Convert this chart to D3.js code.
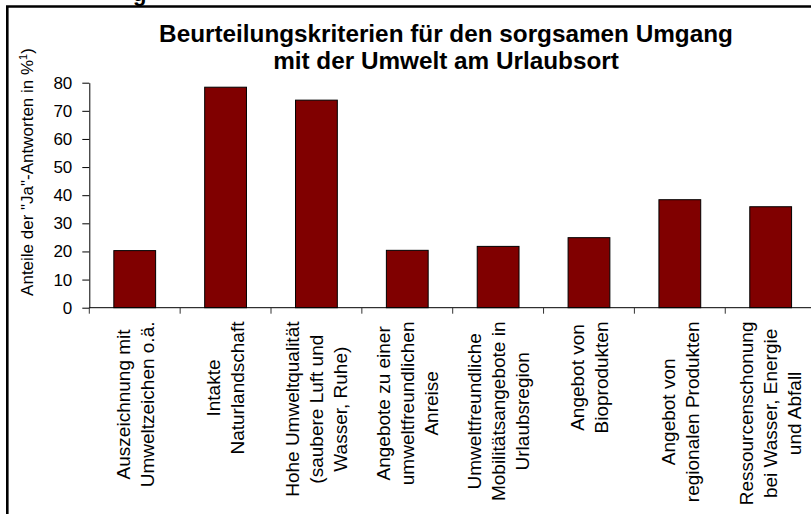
<!DOCTYPE html>
<html>
<head>
<meta charset="utf-8">
<script src="https://cdn.jsdelivr.net/npm/d3@7"></script>
<style>
  html, body { margin: 0; padding: 0; background: #fff; overflow: hidden; width: 811px; height: 514px; }
  svg { position: fixed; left: 0; top: 0; display: block; overflow: hidden; font-family: "Liberation Sans", Arial, sans-serif; }
</style>
</head>
<body>
<svg id="chart" width="811" height="514" viewBox="0 0 811 514"></svg>
<script>
// Kriterien (mehrzeilige Beschriftung der Rubrikenachse)
const categories = [
  ["Auszeichnung mit", "Umweltzeichen o.ä."],
  ["Intakte", "Naturlandschaft"],
  ["Hohe Umweltqualität", "(saubere Luft und", "Wasser, Ruhe)"],
  ["Angebote zu einer", "umweltfreundlichen", "Anreise"],
  ["Umweltfreundliche", "Mobilitätsangebote in", "Urlaubsregion"],
  ["Angebot von", "Bioprodukten"],
  ["Angebot von", "regionalen Produkten"],
  ["Ressourcenschonung", "bei Wasser, Energie", "und Abfall"]
];
// Anteile der "Ja"-Antworten in %
const values = [20.3, 78.4, 73.8, 20.4, 21.8, 24.9, 38.4, 35.9];
const yTicks = [0, 10, 20, 30, 40, 50, 60, 70, 80];
const titleLines = ["Beurteilungskriterien für den sorgsamen Umgang", "mit der Umwelt am Urlaubsort"];

const svg = d3.select("#chart");

// weißer Hintergrund
svg.append("rect").attr("x", 0).attr("y", 0).attr("width", 811).attr("height", 514).attr("fill", "#fff");

// Rahmen um das Diagramm (links und oben sichtbar)
svg.append("path")
  .attr("d", "M7.3,600 L7.3,6.5 L900,6.5")
  .attr("fill", "none").attr("stroke", "#000").attr("stroke-width", 2.6);

// Rest der Überschrift oberhalb des Rahmens
svg.append("text")
  .attr("x", 133).attr("y", 0.5)
  .attr("font-size", 22).attr("font-weight", "bold")
  .text("g");

// Titel
svg.append("g").selectAll("text").data(titleLines).join("text")
  .attr("x", 446)
  .attr("y", (d, i) => 41.5 + i * 27.5)
  .attr("text-anchor", "middle")
  .attr("font-size", 24.3).attr("font-weight", "bold")
  .text(d => d);

const x = d3.scaleBand()
  .domain(d3.range(categories.length))
  .range([89.3, 89.3 + categories.length * 90.85])
  .padding(0);

const y = d3.scaleLinear().domain([0, 80]).range([307.7, 82.7]);

// Balken
svg.append("g").selectAll("rect").data(values).join("rect")
  .attr("x", (d, i) => x(i) + x.bandwidth() * 0.27)
  .attr("width", x.bandwidth() * 0.46)
  .attr("y", d => y(d))
  .attr("height", d => y(0) - y(d))
  .attr("fill", "#800000")
  .attr("stroke", "#000")
  .attr("stroke-width", 1);

// Größenachse
const yAxis = svg.append("g")
  .attr("transform", "translate(89.3,0)")
  .call(d3.axisLeft(y).tickValues(yTicks).tickSize(7).tickPadding(10).tickSizeOuter(0));
yAxis.select(".domain").attr("stroke", "#000");
yAxis.selectAll(".tick line").attr("stroke", "#000");
yAxis.selectAll(".tick text")
  .attr("font-size", 17).attr("fill", "#000")
  .attr("font-family", "Liberation Sans, Arial, sans-serif");

// Rubrikenachse mit Teilstrichen an den Kategoriegrenzen
const xAxisG = svg.append("g").attr("transform", `translate(0,${y(0)})`);
xAxisG.append("line")
  .attr("x1", 89.3).attr("x2", 811)
  .attr("stroke", "#000").attr("stroke-width", 1);
xAxisG.selectAll("line.tick").data(d3.range(categories.length)).join("line")
  .attr("class", "tick")
  .attr("x1", i => 89.3 + i * x.step()).attr("x2", i => 89.3 + i * x.step())
  .attr("y1", 0).attr("y2", 6)
  .attr("stroke", "#333").attr("stroke-width", 1);

// Beschriftung der Kategorien, um 90° gedreht
const fs = 19, lineH = 24, capH = fs * 0.716, labelTop = 321.5;
categories.forEach((lines, i) => {
  const cx = x(i) + x.bandwidth() / 2;
  const g = svg.append("g").attr("transform", `translate(${cx},${labelTop}) rotate(-90)`);
  const total = capH + (lines.length - 1) * lineH;
  const texts = g.selectAll("text").data(lines).join("text")
    .attr("font-size", fs)
    .attr("text-anchor", "middle")
    .attr("y", (d, k) => -total / 2 + capH + k * lineH)
    .text(d => d);
  let maxLen = 0;
  texts.each(function () { maxLen = Math.max(maxLen, this.getComputedTextLength()); });
  texts.attr("x", -maxLen / 2);
});

// Titel der Größenachse
const yTitle = svg.append("text")
  .attr("transform", "translate(33,172) rotate(-90)")
  .attr("text-anchor", "middle")
  .attr("font-size", 17);
yTitle.append("tspan").text("Anteile der \"Ja\"-Antworten in %");
yTitle.append("tspan").attr("font-size", 11).attr("dy", -6).text("1");
yTitle.append("tspan").attr("dy", 6).text(")");
</script>
</body>
</html>
